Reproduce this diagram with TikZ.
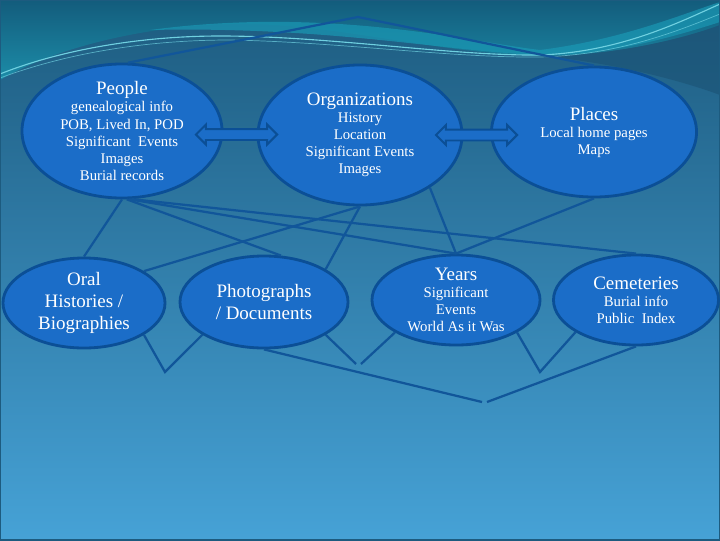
\documentclass[tikz,border=0pt]{standalone}
\usepackage{fontspec}
\setmainfont{Liberation Serif}
\usepackage{tikz}
\usetikzlibrary{shapes.geometric}
\usetikzlibrary{shapes.arrows}

\definecolor{bgtop}{HTML}{1D5B7F}
\definecolor{bgmid}{HTML}{2F7FAA}
\definecolor{bgbot}{HTML}{46A2D6}
\definecolor{swtop}{HTML}{135C7C}
\definecolor{swbot}{HTML}{1C8CA8}
\definecolor{swdark}{HTML}{1B5274}
\definecolor{swband}{HTML}{1A98B4}
\definecolor{swline}{HTML}{6FD0E0}
\definecolor{ovalfill}{HTML}{1B6DC8}
\definecolor{ovaledge}{HTML}{0B4F96}
\definecolor{linkblue}{HTML}{11569A}

\newcommand{\ovalhead}[1]{{\fontsize{13.5}{16}\selectfont #1}}

\tikzset{
	oval/.style={ellipse, draw=ovaledge, line width=2pt, fill=ovalfill,
		text=white, align=center, inner xsep=0pt, inner ysep=-0.3cm,
		font=\fontsize{10.5}{12.1}\selectfont},
	bigoval/.style={oval, font=\fontsize{13.5}{15.6}\selectfont},
	link/.style={draw=linkblue, line width=1.6pt},
	twoway/.style={double arrow, draw=ovaledge, line width=1.4pt,
		fill=ovalfill, inner xsep=0pt, inner ysep=0.1125cm,
		minimum height=2.03cm, double arrow head extend=0.1125cm}
}

\begin{document}
\begin{tikzpicture}[x=0.025cm, y=-0.025cm]
	\useasboundingbox (0,0) rectangle (720,540);
	% background and swoosh
	\shade[top color=bgtop, middle color=bgmid, bottom color=bgbot] (0,0)
	rectangle (720,540);
	\shade[top color=swtop, bottom color=swbot] (0,0) -- (720,0) -- (720,25)
	.. controls (680,40) and (610,56) .. (540,56) .. controls (440,54) and
	(330,22) .. (230,24) .. controls (140,26) and (50,50) .. (0,80) -- cycle;
	\fill[swdark, opacity=.6] (720,25) .. controls (680,40) and (610,56) ..
	(540,56) .. controls (610,62) and (680,80) .. (720,95) -- cycle;
	\fill[swband, opacity=.7] (150,30) .. controls (330,6) and (470,42) ..
	(540,50) .. controls (620,40) and (680,15) .. (720,2) -- (720,22) ..
	controls (670,38) and (610,55) .. (540,55) .. controls (450,52) and
	(330,26) .. (150,30) -- cycle;
	\draw[swline, line width=.8pt] (0,74) .. controls (60,50) and (140,36) ..
	(220,36) .. controls (330,36) and (450,56) .. (540,55) .. controls
	(620,52) and (680,22) .. (720,4);
	\draw[swline, line width=.5pt, opacity=.7] (0,78) .. controls (70,52) and
	(150,40) .. (230,40) .. controls (340,42) and (450,58) .. (540,57) ..
	controls (620,55) and (680,30) .. (720,14);
	\draw[bgtop, line width=1pt] (0,0) rectangle (720,540);

	% ovals
	\node (people) [oval, minimum width=5cm, minimum height=3.35cm] at
	(122,131) {\ovalhead{People}\\genealogical info\\POB, Lived In, POD\\
		Significant\ \ Events\\Images\\Burial records};
	\node (org) [oval, minimum width=5.1cm, minimum height=3.5cm] at
	(360,135) {\ovalhead{Organizations}\\History\\Location\\Significant
		Events\\Images};
	\node (places) [oval, minimum width=5.125cm, minimum height=3.25cm] at
	(594,132) {\ovalhead{Places}\\Local home pages\\Maps};
	\node (oral) [bigoval, minimum width=4.05cm, minimum height=2.25cm] at
	(84,303) {Oral\\Histories /\\Biographies};
	\node (photo) [bigoval, minimum width=4.2cm, minimum height=2.3cm] at
	(264,302) {Photographs\\/ Documents};
	\node (years) [oval, minimum width=4.2cm, minimum height=2.25cm] at
	(456,300) {\ovalhead{Years}\\Significant\\Events\\World As it Was};
	\node (cem) [oval, minimum width=4.125cm, minimum height=2.25cm] at
	(636,300) {\ovalhead{Cemeteries}\\Burial info\\Public\ \ Index};

	% free ends of the links
	\coordinate (apex) at (358,17); \coordinate (v1) at (165,372);
	\coordinate (v2l) at (356,364); \coordinate (v2r) at (361,364);
	\coordinate (v3) at (540,372); \coordinate (bl) at (482,402);
	\coordinate (br) at (487,402);

	% links
	\draw[link] (people.85) -- (apex) -- (places.north);
	\draw[link] (people.south) -- (oral.north); \draw[link] (people.-86) --
	(photo.70); \draw[link] (people.-84) -- (years.north); \draw[link]
	(people.-82) -- (cem.north);
	\draw[link] (org.south) -- (oral.28); \draw[link] (org.south) --
	(photo.28); \draw[link] (org.-37) -- (years.north);
	\draw[link] (places.south) -- (years.north);
	\draw[link] (oral.-28) -- (v1) -- (photo.-152);
	\draw[link] (photo.-28) -- (v2l); \draw[link] (years.-152) -- (v2r);
	\draw[link] (years.-28) -- (v3) -- (cem.-152);
	\draw[link] (photo.south) -- (bl); \draw[link] (cem.south) -- (br);

	% two-way arrows
	\node (po) [twoway] at (236.5,134.5) {};
	\node (op) [twoway] at (476.5,135) {};
\end{tikzpicture}
\end{document}
